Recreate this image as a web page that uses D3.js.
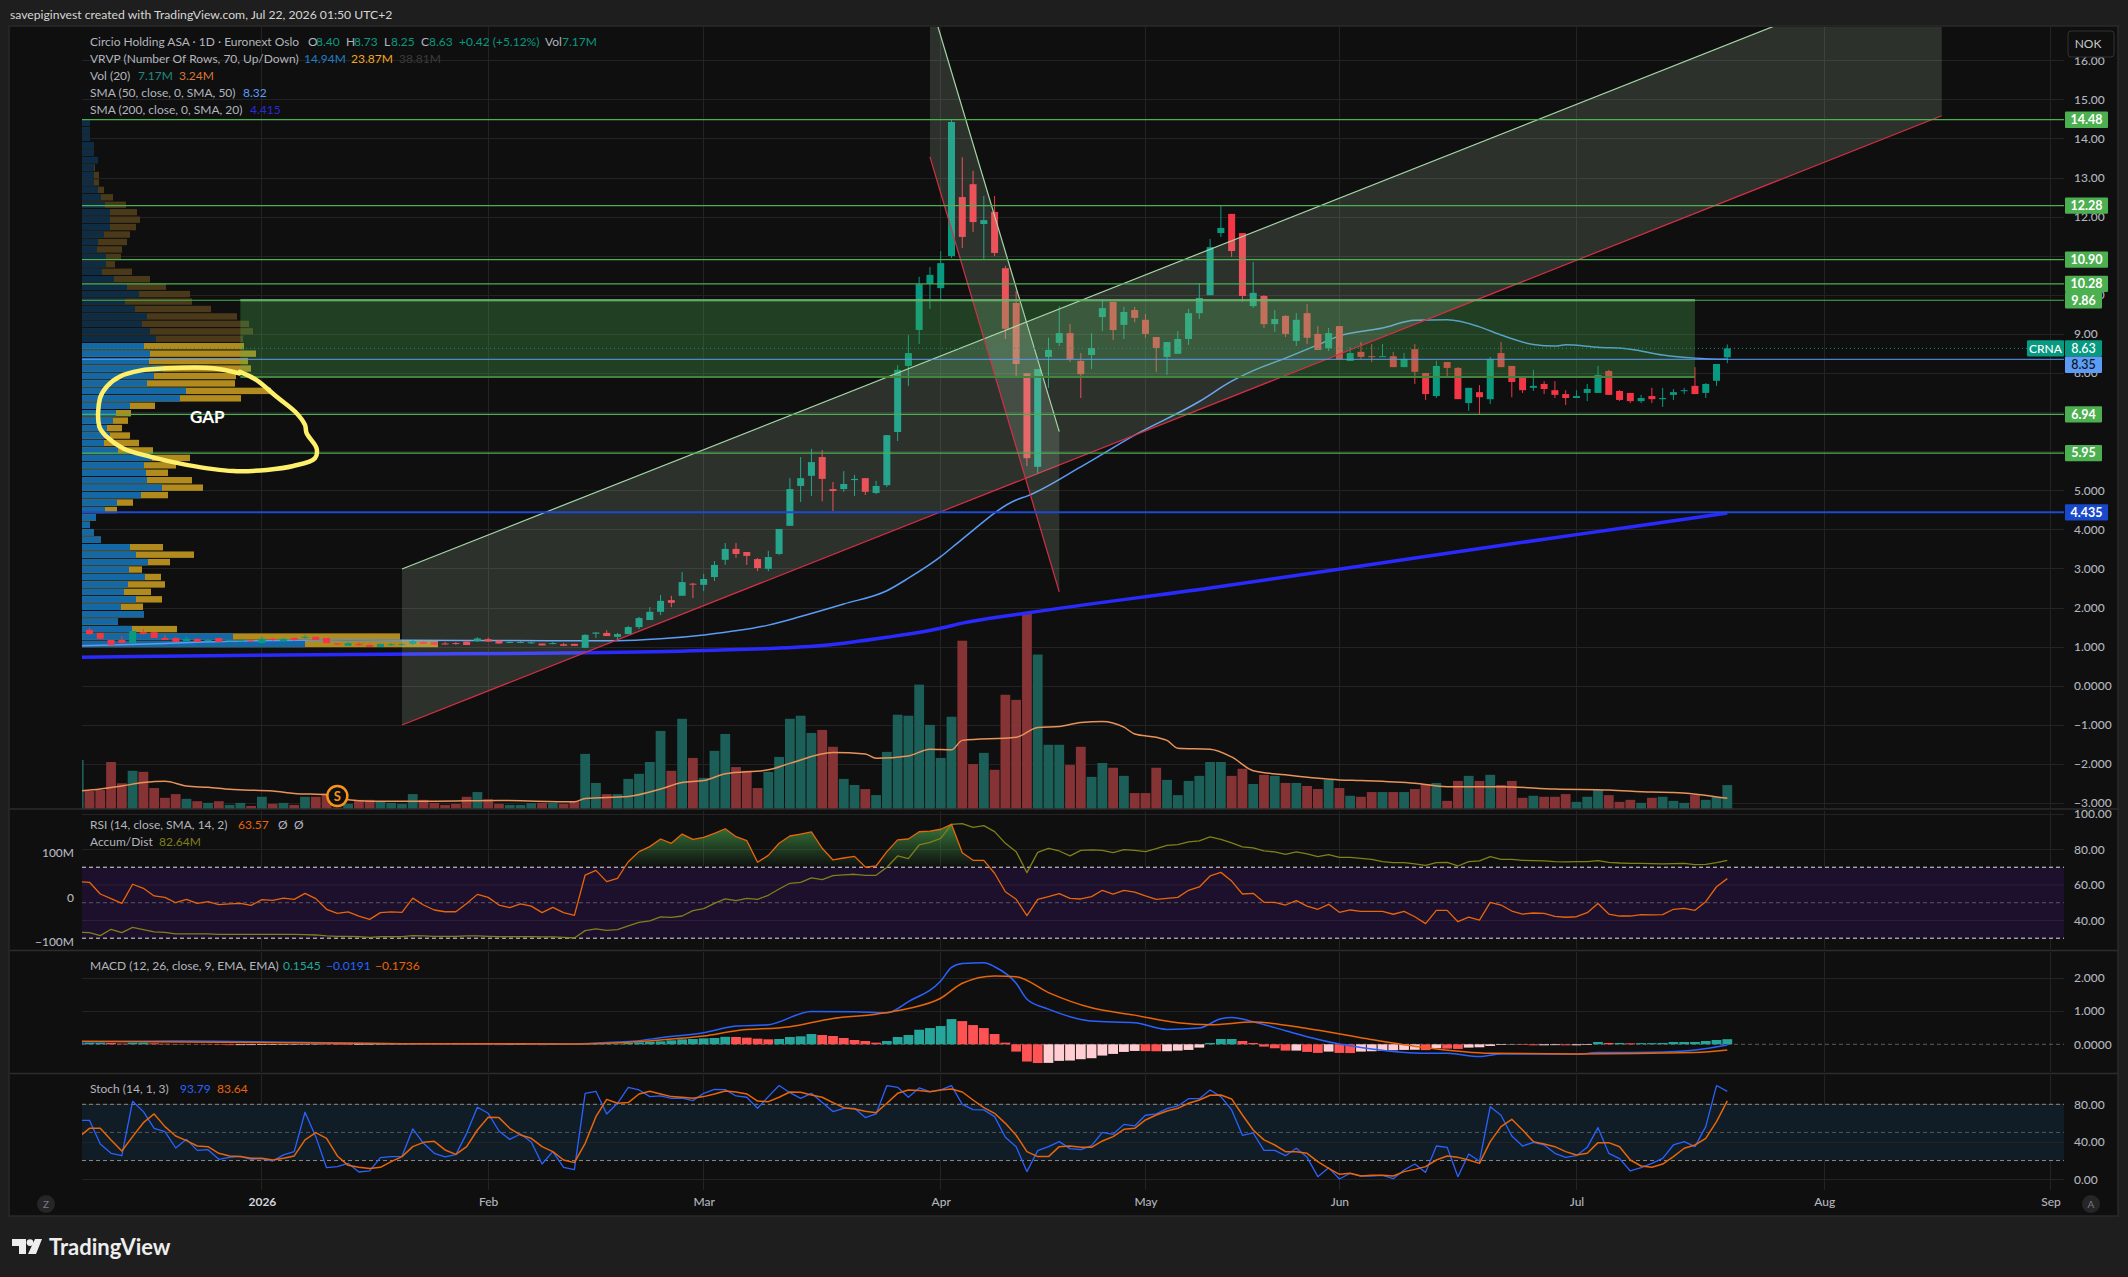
<!DOCTYPE html>
<html>
<head>
<meta charset="utf-8">
<style>
  html, body { margin: 0; padding: 0; background: #1e1e1e; }
  svg { display: block; font-family: Lato, "Open Sans", sans-serif; }
  .axis text { font-size: 12px; fill: #b2b5be; font-family: Lato, sans-serif; font-weight: 500; }
  .axis path, .axis line { stroke: none; }
  .grid line { stroke: #232323; stroke-width: 1; shape-rendering: crispEdges; }
  .grid path { stroke: none; }
  .grid text { display: none; }
</style>
<script src="https://cdn.jsdelivr.net/npm/d3@7"></script>
</head>
<body>
<svg id="chart" width="2128" height="1277"></svg>
<script>
// daily candles, bar 0 is clipped by the left edge, bar 153 is Jul 21
const opens = [1.20,1.43,1.35,1.17,1.17,1.09,1.37,1.37,1.22,1.22,
  1.14,1.20,1.14,1.22,1.14,1.14,1.15,1.09,1.20,1.14,
  1.22,1.23,1.25,1.22,1.08,1.02,1.07,1.04,0.99,1.05,
  1.06,1.07,1.12,1.12,1.08,1.09,1.13,1.14,1.19,1.15,
  1.11,1.11,1.10,1.08,1.07,1.06,1.07,0.97,1.33,1.35,
  1.25,1.32,1.50,1.68,1.89,2.19,2.30,2.61,2.58,2.78,
  3.22,3.50,3.42,3.24,2.99,3.37,4.09,5.11,5.37,5.85,
  5.03,5.03,5.26,5.31,4.93,5.13,6.49,8.18,9.10,10.28,
  10.17,10.99,12.50,12.83,11.81,12.12,10.68,9.79,7.99,5.60,
  8.41,8.77,9.02,8.31,8.46,9.43,9.82,9.23,9.61,9.36,
  8.92,8.41,8.49,8.87,9.53,9.99,11.58,12.07,11.58,9.71,
  9.97,9.25,9.46,8.82,9.53,9.00,8.63,9.20,8.31,8.54,
  8.43,8.41,8.43,8.15,8.61,8.00,7.41,8.28,8.13,7.23,
  7.51,7.33,8.51,8.18,7.91,7.62,7.72,7.56,7.46,7.36,
  7.49,7.49,8.05,7.54,7.49,7.28,7.41,7.33,7.44,7.54,
  7.67,7.49,7.80,8.40];
const highs = [1.37,1.48,1.35,1.17,1.27,1.40,1.45,1.37,1.30,1.24,
  1.25,1.20,1.20,1.22,1.19,1.20,1.17,1.25,1.22,1.22,
  1.24,1.30,1.25,1.22,1.08,1.12,1.12,1.07,1.07,1.09,
  1.09,1.17,1.14,1.12,1.12,1.12,1.15,1.24,1.23,1.17,
  1.15,1.14,1.14,1.08,1.12,1.09,1.07,1.32,1.37,1.42,
  1.35,1.53,1.76,2.01,2.32,2.30,2.91,2.63,2.86,3.19,
  3.65,3.65,3.42,3.27,3.45,4.01,5.31,5.85,6.06,6.03,
  5.21,5.49,5.39,5.31,5.24,6.41,8.20,8.97,10.46,10.71,
  11.12,14.47,13.52,13.17,12.53,12.53,10.74,10.10,7.99,8.10,
  8.90,9.71,9.25,8.51,9.02,9.89,9.82,9.69,9.69,9.51,
  8.92,8.79,9.07,9.64,10.30,11.43,12.27,12.07,11.58,10.84,
  9.99,9.61,9.48,9.53,9.76,9.20,9.15,9.20,8.66,8.79,
  8.74,8.74,8.54,8.51,8.74,8.00,8.31,8.28,8.15,7.62,
  7.69,8.41,8.79,8.18,7.91,8.08,7.79,7.79,7.56,7.56,
  7.72,8.18,8.08,7.56,7.49,7.44,7.62,7.62,7.59,7.62,
  8.15,7.74,8.23,8.73];
const lows = [1.20,1.30,1.20,1.04,1.09,1.09,1.30,1.22,1.17,1.12,
  1.14,1.12,1.14,1.12,1.14,1.14,1.12,1.07,1.15,1.12,
  1.14,1.20,1.17,1.09,1.04,1.02,1.02,0.99,0.99,1.02,
  1.02,1.04,1.07,1.04,1.05,1.05,1.04,1.12,1.12,1.07,
  1.09,1.09,1.07,1.03,1.06,1.02,1.02,0.97,1.22,1.27,
  1.17,1.32,1.45,1.68,1.81,2.01,2.30,2.24,2.42,2.68,
  3.09,3.27,3.09,2.93,2.93,3.34,4.09,4.70,4.85,4.72,
  4.47,4.96,4.85,4.88,4.90,5.08,6.26,7.67,8.74,9.64,
  9.87,10.94,11.20,11.61,10.92,10.99,8.87,7.90,5.62,5.43,
  7.62,8.69,8.28,7.36,8.10,9.07,8.84,8.87,9.30,8.90,
  8.03,7.95,8.49,8.72,9.38,9.99,11.48,10.97,9.82,9.66,
  9.15,9.05,8.92,8.69,8.74,8.59,8.56,8.35,8.31,8.36,
  8.28,8.41,8.15,8.15,7.72,7.31,7.36,7.91,7.33,7.03,
  6.95,7.21,8.15,7.38,7.49,7.54,7.46,7.36,7.18,7.36,
  7.28,7.49,7.44,7.28,7.23,7.23,7.23,7.13,7.31,7.46,
  7.46,7.36,7.67,8.25];
const closes = [1.37,1.32,1.20,1.04,1.09,1.40,1.32,1.22,1.17,1.12,
  1.20,1.12,1.17,1.12,1.17,1.17,1.14,1.20,1.17,1.20,
  1.17,1.25,1.17,1.09,1.06,1.09,1.04,0.99,1.07,1.06,
  1.07,1.14,1.07,1.04,1.06,1.07,1.04,1.21,1.13,1.08,
  1.12,1.12,1.11,1.03,1.09,1.02,1.02,1.30,1.36,1.27,
  1.32,1.50,1.73,1.89,2.17,2.12,2.65,2.59,2.73,3.09,
  3.50,3.37,3.32,3.01,3.29,4.01,5.03,5.31,5.72,5.29,
  4.98,5.16,5.29,4.96,5.11,6.41,8.08,8.51,10.27,10.51,
  10.81,14.42,11.48,11.86,11.91,11.07,9.13,8.23,5.82,8.10,
  8.59,9.02,8.35,7.97,8.64,9.66,9.10,9.56,9.41,9.00,
  8.64,8.79,8.87,9.53,9.92,11.22,11.71,11.12,9.97,10.05,
  9.25,9.38,9.00,9.36,8.90,8.59,9.02,8.35,8.51,8.41,
  8.41,8.43,8.15,8.36,8.03,7.46,8.18,8.13,7.33,7.62,
  7.38,8.36,8.15,7.77,7.56,7.67,7.59,7.44,7.36,7.41,
  7.59,7.95,7.44,7.31,7.28,7.36,7.33,7.36,7.51,7.56,
  7.46,7.72,8.23,8.63];

// volume in millions
const volumes = [14.6,5.4,5.7,14.0,7.7,11.4,11.1,6.3,3.4,4.5,
  3.1,2.4,1.9,2.4,1.3,1.9,1.0,3.7,1.6,1.9,
  1.3,3.7,3.7,4.7,0.5,1.6,2.8,2.8,2.4,1.9,
  1.6,4.5,2.8,1.9,1.3,1.6,3.7,5.1,3.0,1.6,
  1.3,1.3,1.8,1.9,1.9,1.6,2.4,16.4,7.8,4.5,
  4.5,9.0,10.5,14.0,23.2,11.4,26.8,15.2,9.3,17.3,
  22.3,12.5,11.4,6.3,11.1,15.5,26.8,27.7,22.6,23.5,
  18.5,9.0,7.2,6.0,4.2,17.0,28.0,27.7,36.9,25.0,
  15.2,27.4,49.9,13.4,16.7,11.7,33.9,32.4,58.1,45.8,
  19.1,19.1,13.1,18.5,9.6,13.7,12.3,9.9,4.8,4.8,
  12.3,8.7,4.2,8.4,9.9,14.0,14.0,9.9,12.0,7.5,
  10.2,9.9,7.8,7.8,6.9,6.0,8.7,6.3,4.0,3.7,
  5.1,5.1,5.1,5.1,6.0,7.5,7.8,2.5,8.4,9.9,
  8.4,10.2,7.2,8.4,3.4,4.0,3.7,3.7,4.5,2.2,
  3.7,5.7,4.2,2.2,2.8,1.9,3.4,3.7,2.5,1.9,
  4.2,2.8,3.7,7.17];
const volMaBars = [0,2,4,6,8,10,12,14,18,20,23,25,27,33,39,46,47,51,54,56,58,60,64,66,70,73,74,77,79,81,82,87,89,91,93,95,97,98,100,101,102,105,107,109,112,117,119,124,127,132,137,142,146,148,153];
const volMaValues = [5.4,6.0,6.9,7.9,8.3,6.9,6.5,5.9,5.4,4.7,4.3,2.8,2.4,2.4,2.6,2.2,3.2,3.8,6.0,7.9,8.5,10.5,11.7,13.6,16.8,16.4,15.1,15.8,17.8,17.6,20.4,21.3,24.2,24.5,25.7,26.0,24.3,22.3,21.3,20.4,18.1,17.8,15.5,11.4,10.2,8.7,8.5,7.7,6.7,6.7,6.0,5.7,5.1,5.0,3.24];

const sma50Bars = [0,8,14,25,45,50,54,58,64,67,71,75,77,80,82,87,88,93,98,104,107,109,112,115,117,121,124,127,130,132,135,137,138,141,144,147,150,153];
const sma50Values = [1.02,1.08,1.14,1.17,1.15,1.15,1.20,1.30,1.55,1.77,2.09,2.43,2.75,3.30,3.75,4.75,4.85,5.60,6.41,7.27,7.79,8.06,8.38,8.72,8.95,9.15,9.35,9.36,9.18,8.97,8.73,8.69,8.72,8.66,8.61,8.46,8.38,8.35];
const sma200Bars = [0,25,47,58,69,75,80,82,88,105,119,131,144,153];
const sma200Values = [0.73,0.80,0.84,0.90,1.03,1.24,1.47,1.60,1.86,2.50,3.06,3.55,4.06,4.415];

// volume profile rows from the top, in reading units of the picture
const profileUp = [8,8,8,12,12,16,12,12,12,16,19,23,28,28,28,22,16,15,24,24,20,32,45,57,43,53,65,60,68,74,62,68,67,81,72,65,104,98,48,34,31,25,28,22,36,70,62,64,65,80,59,35,23,14,8,12,19,48,54,66,47,63,46,42,54,39,62,36,50,151,223];
const profileTotal = [8,8,8,12,12,16,13,17,17,22,31,44,55,58,54,48,45,40,39,33,50,68,84,108,110,129,155,167,171,161,162,174,166,169,154,153,189,159,73,49,46,40,48,57,71,108,94,86,110,121,86,51,35,14,8,12,19,81,112,88,60,79,83,69,80,61,62,36,95,318,356];

const levelPrices = [14.48,12.28,10.90,10.28,9.86,6.94,5.95];
const levelLabels = ["14.48","12.28","10.90","10.28","9.86","6.94","5.95"];
const supportPrice = 4.435;
const lastPrice = 8.63;
const smaPrice = 8.35;

const zoneBars = [15,150];
const zonePrices = [9.86,7.90];
const riseBars = [30,172.9];
const riseUpper = [2.985,18.57];
const riseLower = [-1.005,14.58];
const fallBars = [79,91];
const fallUpper = [17.54,6.50];
const fallLower = [13.53,2.40];

// hand drawn circle round the gap
const gapBars = [14.9,12.5,8.2,5.68,3.83,2.59,1.97,1.91,2.59,4.14,6.61,10.01,14.35,17.44,19.91,21.92,22.08,21.15,21.0,20.22,18.37,16.51,14.96];
const gapPrices = [7.99,8.12,8.12,8.06,7.91,7.65,7.35,6.63,6.37,6.07,5.86,5.65,5.49,5.52,5.62,5.82,6.07,6.46,6.67,6.97,7.39,7.82,8.03];

const rsiValues = [61.9,61.5,54.9,52.3,49.6,60.4,58.1,53.8,53.0,50.0,
  51.9,49.6,50.6,48.9,49.3,49.6,48.5,51.7,51.3,52.6,
  51.9,55.3,52.3,46.3,44.0,44.8,42.5,40.6,44.4,44.8,
  44.6,52.6,48.7,45.9,44.9,44.9,49.6,54.7,53.0,48.7,
  47.2,49.3,48.1,44.4,47.4,44.4,42.9,65.6,68.2,61.9,
  63.7,73.1,78.8,81.6,85.9,83.5,88.7,85.7,86.8,89.1,
  91.7,87.2,85.0,72.8,76.7,83.5,87.6,88.7,89.9,80.7,
  74.1,75.2,76.1,70.1,70.7,78.8,85.4,85.9,90.0,90.4,
  91.4,94.2,78.2,73.9,73.9,66.6,56.2,51.9,42.7,51.9,
  53.4,55.1,52.5,52.1,53.4,57.0,54.9,57.0,56.0,53.8,
  51.9,52.5,53.0,57.0,58.9,65.1,67.1,62.2,54.9,55.3,
  50.2,50.2,48.7,51.2,48.1,46.3,49.1,44.6,45.9,45.1,
  45.1,45.1,43.5,45.1,42.1,38.2,45.7,45.7,39.3,41.9,
  40.2,50.2,48.7,45.3,43.6,44.2,44.0,42.3,41.8,42.1,
  44.4,49.6,43.6,42.5,42.5,43.3,43.1,43.3,46.3,46.8,
  45.7,50.6,59.0,63.57];
const adValues = [-78.1,-78.9,-85.6,-71.4,-78.9,-67.0,-72.2,-77.4,-78.1,-81.8,
  -81.8,-81.8,-81.8,-82.6,-82.6,-82.6,-82.6,-82.6,-82.6,-82.6,
  -82.6,-83.3,-84.1,-86.3,-87.0,-87.0,-87.8,-89.3,-87.8,-87.8,
  -87.8,-85.6,-86.3,-87.0,-87.0,-87.0,-86.3,-86.3,-87.0,-87.8,
  -87.8,-87.8,-87.8,-88.5,-88.5,-89.3,-90.8,-74.4,-70.7,-73.7,
  -72.2,-64.0,-55.8,-52.8,-43.9,-44.6,-41.7,-29.7,-25.3,-13.4,
  -3.7,-7.4,-2.2,-4.5,4.5,18.6,31.3,33.5,43.2,39.4,
  48.4,49.9,51.4,49.1,49.1,67.0,92.3,86.3,116.8,122.8,
  131.7,163.0,164.4,156.3,160.0,146.6,120.5,101.9,55.1,100.4,
  109.4,103.4,92.3,104.9,105.7,104.9,99.7,106.4,104.9,101.9,
  108.6,116.1,117.6,123.5,125.8,134.7,129.5,121.3,112.4,110.1,
  103.4,101.2,96.0,101.2,96.7,90.8,95.2,89.3,89.3,87.1,
  84.8,79.6,77.4,77.4,74.4,71.4,77.4,78.1,69.9,79.6,
  81.1,90.8,84.8,84.8,82.6,81.8,81.1,79.6,78.9,79.6,
  79.6,81.8,78.1,76.6,75.9,75.9,75.1,74.4,75.1,75.9,
  72.9,73.7,77.4,82.64];

const macdBars = [0,10,20,30,46,50,52,54,58,61,64,68,72,75,77,80,81,82,84,85,87,88,90,93,94,98,101,104,106,107,109,112,114,117,120,125,127,130,132,139,141,146,150,153];
const macdValues = [0.08,0.10,0.06,0.02,0.01,0.07,0.11,0.20,0.35,0.55,0.59,0.99,0.98,0.95,1.29,1.91,2.32,2.44,2.46,2.34,1.84,1.36,1.06,0.75,0.70,0.65,0.45,0.49,0.77,0.81,0.68,0.41,0.23,0.01,-0.14,-0.27,-0.27,-0.37,-0.29,-0.30,-0.25,-0.24,-0.17,-0.0191];
const signalBars = [0,30,46,54,58,61,66,70,74,77,80,82,85,87,90,94,98,102,105,109,114,119,125,131,139,150,153];
const signalValues = [0.09,0.02,0.01,0.13,0.25,0.41,0.53,0.78,0.91,1.08,1.39,1.84,2.06,2.04,1.56,1.10,0.88,0.65,0.59,0.67,0.48,0.20,-0.10,-0.27,-0.29,-0.25,-0.1736];
const histValues = [0.05,0.05,0.05,0.04,0.02,0.05,0.05,0.03,0.015,0.01,
  0.005,-0.005,-0.01,-0.015,-0.025,-0.024,-0.023,-0.021,-0.02,-0.018,
  -0.016,-0.014,-0.012,-0.015,-0.02,-0.022,-0.02,-0.018,-0.015,-0.012,
  -0.01,-0.008,-0.01,-0.012,-0.014,-0.016,-0.018,-0.02,-0.022,-0.024,
  -0.022,-0.02,-0.022,-0.024,-0.02,-0.015,-0.018,0.005,0.01,0.015,
  0.02,0.04,0.06,0.08,0.09,0.12,0.15,0.16,0.18,0.19,
  0.225,0.22,0.20,0.17,0.15,0.16,0.22,0.24,0.31,0.28,
  0.25,0.19,0.13,0.10,0.05,0.10,0.22,0.28,0.44,0.49,
  0.55,0.76,0.70,0.58,0.49,0.31,0.05,-0.22,-0.52,-0.565,
  -0.56,-0.50,-0.49,-0.45,-0.42,-0.34,-0.29,-0.23,-0.20,-0.205,
  -0.21,-0.209,-0.19,-0.17,-0.10,0.04,0.16,0.16,0.10,0.04,
  -0.07,-0.12,-0.19,-0.19,-0.23,-0.26,-0.22,-0.26,-0.265,-0.22,
  -0.21,-0.20,-0.18,-0.17,-0.165,-0.175,-0.12,-0.13,-0.14,-0.10,
  -0.09,-0.05,-0.02,-0.01,-0.02,-0.03,-0.03,-0.025,-0.03,-0.03,
  -0.02,0.07,0.04,0.04,0.03,0.035,0.035,0.04,0.07,0.07,
  0.07,0.10,0.13,0.1545];

const stochK = [62.9,62.9,37.7,27.7,25.2,83.2,72.2,54.4,50.8,33.4,
  42.6,30.9,31.6,21.3,23.4,24.5,21.3,22.0,19.5,26.0,
  29.5,71.5,45.5,12.4,13.5,17.0,7.8,8.9,23.1,24.2,
  24.5,53.7,38.4,27.7,23.8,26.3,49.0,76.8,70.4,51.5,
  42.6,48.3,39.8,16.3,29.5,12.8,10.3,91.7,93.9,69.7,
  81.1,98.1,95.3,88.2,88.9,86.4,86.7,83.9,91.7,96.0,
  95.6,88.9,87.5,75.7,88.2,100.0,92.4,86.4,91.7,81.8,
  72.2,75.7,75.7,65.8,69.7,100.0,98.1,87.5,97.4,93.5,
  95.3,99.9,80.0,74.3,74.0,66.8,44.8,34.8,8.2,30.6,
  34.8,40.2,32.7,31.6,35.9,50.1,48.0,58.6,56.9,68.3,
  69.7,75.4,78.2,86.0,86.0,95.3,88.2,74.0,46.9,49.4,
  30.9,30.9,25.2,33.1,23.4,2.8,12.4,0.3,6.4,3.5,
  3.5,4.2,0.7,9.9,16.3,7.4,35.5,34.1,2.8,27.0,
  19.2,77.5,68.3,46.2,35.5,39.4,36.6,27.7,23.4,25.2,
  34.1,55.1,27.7,22.0,8.9,12.4,17.0,22.4,36.6,40.2,
  34.8,56.2,100.0,93.79];
const stochD = [44.8,54.4,54.4,42.0,30.2,45.5,60.4,69.7,56.2,46.2,
  41.2,35.5,34.8,27.7,24.9,24.2,22.4,22.4,20.6,22.4,
  24.9,42.0,49.8,43.7,24.9,14.9,12.8,11.4,12.8,18.8,
  24.2,34.8,39.4,40.5,31.3,26.6,34.8,52.6,66.1,65.8,
  54.4,47.3,43.7,34.8,29.5,20.6,17.8,38.4,66.8,85.3,
  81.1,81.8,91.0,93.9,91.0,88.2,87.5,86.4,88.2,91.0,
  94.2,93.1,91.0,83.5,82.8,87.5,93.1,92.8,90.0,87.5,
  81.8,76.4,75.0,72.5,71.1,81.1,91.7,95.3,94.6,93.5,
  95.3,96.3,93.1,84.6,76.4,70.4,59.7,47.0,29.5,24.2,
  24.2,34.8,35.5,34.1,34.1,40.9,45.5,53.3,54.4,63.3,
  68.6,72.9,75.7,81.1,84.6,89.6,89.9,85.7,68.6,52.6,
  42.0,36.6,29.5,29.5,27.7,18.8,11.7,5.3,6.4,3.5,
  4.2,4.2,3.5,8.2,10.6,13.5,20.6,24.9,23.4,20.6,
  17.0,40.2,56.2,64.0,52.6,40.2,37.7,34.8,29.5,26.0,
  27.7,39.1,39.1,34.8,20.6,14.2,12.8,16.3,24.2,33.1,
  36.6,43.7,61.5,83.64];

const priceTicks = [16,15,14,13,12,11,10,9,8,7,6,5,4,3,2,1,0,-1,-2,-3];
const priceTickLabels = ["16.00","15.00","14.00","13.00","12.00","11.00","10.00","9.00","8.00","7.00","6.00","5.000","4.000","3.000","2.000","1.000","0.0000","\u22121.000","\u22122.000","\u22123.000"];
const rsiTicks = [100,80,60,40];
const rsiTickLabels = ["100.00","80.00","60.00","40.00"];
const adTicks = [100,0,-100];
const adTickLabels = ["100M","0","\u2212100M"];
const macdTicks = [2,1,0];
const macdTickLabels = ["2.000","1.000","0.0000"];
const stochTicks = [80,40,0];
const stochTickLabels = ["80.00","40.00","0.00"];
const timeTickBars = [17,38,58,80,99,117,139,162,183];
const timeTickLabels = ["2026","Feb","Mar","Apr","May","Jun","Jul","Aug","Sep"];

const UP = "#089981", DOWN = "#f23645";
const plotL = 82, plotR = 2064;
const bars = d3.range(closes.length);

const svg = d3.select("#chart");
const defs = svg.append("defs");

const xBar = d3.scaleLinear().domain([0, 153]).range([78.73, 1727.3]);
const yPrice = d3.scaleLinear().domain([-3, 15]).range([802.97, 99.35]);
const yVol = d3.scaleLinear().domain([0, 58.1]).range([809.3, 613]);
const yRsi = d3.scaleLinear().domain([30, 100]).range([938.2, 814]);
const yAd = d3.scaleLinear().domain([-100, 100]).range([942.1, 852.5]);
const yMacd = d3.scaleLinear().domain([0, 2]).range([1044.3, 978]);
const yStoch = d3.scaleLinear().domain([0, 80]).range([1179.3, 1104.3]);
const xProfile = d3.scaleLinear().domain([0, 356]).range([plotL, plotL + 356]);
const yProfile = d3.scaleBand().domain(d3.range(profileUp.length)).range([yPrice(14.48), yPrice(0.985)]).paddingInner(0.14);

function clip(id, x, y, w, h) {
  defs.append("clipPath").attr("id", id).append("rect").attr("x", x).attr("y", y).attr("width", w).attr("height", h);
  return `url(#${id})`;
}

function note(g, text, x, y, color = "#b2b5be", size = 12, weight = 400) {
  return g.append("text").attr("x", x).attr("y", y).attr("dy", "0.35em").attr("fill", color)
    .attr("font-size", size).attr("font-weight", weight).text(text);
}

function series(g, xs, ys, x, y, color, width, curve = d3.curveLinear) {
  g.append("path").attr("fill", "none").attr("stroke", color).attr("stroke-width", width).attr("stroke-linejoin", "round")
    .attr("d", d3.line().curve(curve).x((d) => x(d)).y((d, i) => y(ys[i]))(xs));
}

function hline(g, y, color, width, dash) {
  g.append("line").attr("x1", plotL).attr("x2", plotR).attr("y1", y).attr("y2", y)
    .attr("stroke", color).attr("stroke-width", width).attr("stroke-dasharray", dash || null);
}

function priceAxis(y, ticks, labels) {
  svg.append("g").attr("class", "axis").attr("transform", `translate(${plotR},0)`)
    .call(d3.axisRight(y).tickValues(ticks).tickSize(0).tickPadding(10).tickFormat((d, i) => labels[i]));
}

function gridY(g, y, ticks) {
  g.append("g").attr("class", "grid").attr("transform", `translate(${plotL},0)`)
    .call(d3.axisLeft(y).tickValues(ticks).tickSize(-(plotR - plotL)).tickFormat(""));
}

function gridX(g, top, bottom) {
  g.append("g").selectAll("line").data(timeTickBars).join("line").attr("class", "vgrid")
    .attr("x1", (d) => xBar(d)).attr("x2", (d) => xBar(d)).attr("y1", top).attr("y2", bottom)
    .attr("stroke", "#232323").attr("shape-rendering", "crispEdges");
}

function tag(text, price, y, fill, width, color = "#fff", weight = 700) {
  svg.append("rect").attr("x", plotR + 1).attr("y", y - 8.2).attr("width", width).attr("height", 16.4).attr("rx", 1).attr("fill", fill);
  const t = note(svg, text, plotR + 1 + width / 2, y, color, 12.5, weight);
  t.attr("text-anchor", "middle");
}

function channel(g, xs, upper, lower) {
  const area = d3.area().x((d) => xBar(d)).y0((d, i) => yPrice(lower[i])).y1((d, i) => yPrice(upper[i]));
  g.append("path").attr("d", area(xs)).attr("fill", "rgba(200,230,201,0.16)");
  series(g, xs, upper, xBar, yPrice, "#a5d6a7", 1.2);
  series(g, xs, lower, xBar, yPrice, "#d32f45", 1.2);
}

// frame
svg.append("rect").attr("width", 2128).attr("height", 1277).attr("fill", "#1e1e1e");
svg.append("rect").attr("x", 9).attr("y", 26).attr("width", 2109).attr("height", 1190)
  .attr("fill", "#0f0f0f").attr("stroke", "#2a2a2a").attr("stroke-width", 1.5);
note(svg, "savepiginvest created with TradingView.com, Jul 22, 2026 01:50 UTC+2", 10, 15, "#d6d6d6", 12.2);

// main pane
const main = svg.append("g").attr("clip-path", clip("mainClip", plotL, 27, plotR - plotL, 782.5));
gridX(main, 27, 809);
gridY(main, yPrice, priceTicks);

main.append("g").selectAll("rect").data(bars).join("rect")
  .attr("x", (i) => xBar(i) - 4.9).attr("width", 9.8)
  .attr("y", (i) => yVol(volumes[i])).attr("height", (i) => yVol(0) - yVol(volumes[i]))
  .attr("fill", (i) => closes[i] >= opens[i] ? "#1c5f58" : "#853335");
series(main, volMaBars, volMaValues, xBar, yVol, "#e8935a", 1.5, d3.curveMonotoneX);

// value area rows are bright, the others dim
const profileRows = d3.range(profileUp.length);
main.append("g").selectAll("rect").data(profileRows).join("rect")
  .attr("x", plotL).attr("y", (r) => yProfile(r)).attr("height", yProfile.bandwidth())
  .attr("width", (r) => xProfile(profileTotal[r]) - plotL)
  .attr("fill", (r) => r < 30 ? "#4a3a1a" : "#b28b1e");
main.append("g").selectAll("rect").data(profileRows).join("rect")
  .attr("x", plotL).attr("y", (r) => yProfile(r)).attr("height", yProfile.bandwidth())
  .attr("width", (r) => xProfile(profileUp[r]) - plotL)
  .attr("fill", (r) => r < 30 ? "#0f2c45" : "#1568a6");

series(main, sma200Bars, sma200Values, xBar, yPrice, "#2a2aff", 3.5, d3.curveMonotoneX);
series(main, sma50Bars, sma50Values, xBar, yPrice, "#5b9cf6", 1.5, d3.curveMonotoneX);

const candles = main.append("g");
candles.selectAll("line").data(bars).join("line")
  .attr("x1", (i) => xBar(i)).attr("x2", (i) => xBar(i))
  .attr("y1", (i) => yPrice(highs[i])).attr("y2", (i) => yPrice(lows[i]))
  .attr("stroke", (i) => closes[i] >= opens[i] ? UP : DOWN).attr("stroke-width", 1);
candles.selectAll("rect").data(bars).join("rect")
  .attr("x", (i) => xBar(i) - 3.5).attr("width", 7)
  .attr("y", (i) => yPrice(Math.max(opens[i], closes[i])))
  .attr("height", (i) => Math.max(1, Math.abs(yPrice(opens[i]) - yPrice(closes[i]))))
  .attr("fill", (i) => closes[i] >= opens[i] ? UP : DOWN);

// drawings sit over the candles
main.append("rect").attr("x", xBar(zoneBars[0])).attr("width", xBar(zoneBars[1]) - xBar(zoneBars[0]))
  .attr("y", yPrice(zonePrices[0])).attr("height", yPrice(zonePrices[1]) - yPrice(zonePrices[0]))
  .attr("fill", "rgba(76,175,80,0.3)");
channel(main, riseBars, riseUpper, riseLower);
channel(main, fallBars, fallUpper, fallLower);

main.append("line").attr("x1", xBar(zoneBars[0])).attr("x2", xBar(zoneBars[1]))
  .attr("y1", yPrice(zonePrices[0])).attr("y2", yPrice(zonePrices[0])).attr("stroke", "#86c089").attr("stroke-width", 2);
main.append("line").attr("x1", xBar(zoneBars[0])).attr("x2", xBar(zoneBars[1]))
  .attr("y1", yPrice(zonePrices[1])).attr("y2", yPrice(zonePrices[1])).attr("stroke", "#43843f").attr("stroke-width", 2);

levelPrices.forEach((p) => hline(main, yPrice(p), "#4caf50", 1.2));
hline(main, yPrice(supportPrice), "#1c49d6", 2);
hline(main, yPrice(smaPrice), "#5b9cf6", 1);
hline(main, yPrice(lastPrice), UP, 1, "1,3");

main.append("path").attr("fill", "none").attr("stroke", "#fff06c").attr("stroke-width", 4.5).attr("stroke-linecap", "round")
  .attr("d", d3.line().curve(d3.curveCatmullRom).x((d) => xBar(d)).y((d, i) => yPrice(gapPrices[i]))(gapBars));
note(main, "GAP", 190, yPrice(6.94) + 3, "#fff", 17, 700).attr("stroke", "rgba(255,255,255,0.25)").attr("stroke-width", 0.5);

// dividend marker
const sMark = main.append("g").attr("transform", `translate(${xBar(24)},${yVol(3.94)})`);
sMark.append("circle").attr("r", 10).attr("fill", "#0f0f0f").attr("stroke", "#f7931a").attr("stroke-width", 2.5);
note(sMark, "S", 0, 0, "#f7931a", 13, 700).attr("text-anchor", "middle");

// RSI with accumulation line
const rsiPane = svg.append("g").attr("clip-path", clip("rsiClip", plotL, 811, plotR - plotL, 138));
gridX(rsiPane, 811, 950);
gridY(rsiPane, yRsi, rsiTicks);
rsiPane.append("rect").attr("x", plotL).attr("width", plotR - plotL).attr("y", yRsi(70)).attr("height", yRsi(30) - yRsi(70)).attr("fill", "#1c102c");
hline(rsiPane, yRsi(80), "#232323", 1);
hline(rsiPane, yRsi(60), "#2d2138", 1);
hline(rsiPane, yRsi(40), "#2d2138", 1);
hline(rsiPane, yRsi(50), "#5f5566", 1, "4,3");
hline(rsiPane, yRsi(70), "#e0e0e0", 1, "4,3");
hline(rsiPane, yRsi(30), "#e0e0e0", 1, "4,3");
const rsiGrad = defs.append("linearGradient").attr("id", "rsiHigh").attr("gradientUnits", "userSpaceOnUse")
  .attr("x1", 0).attr("x2", 0).attr("y1", yRsi(94)).attr("y2", yRsi(70));
rsiGrad.append("stop").attr("offset", 0).attr("stop-color", "#4caf50").attr("stop-opacity", 0.65);
rsiGrad.append("stop").attr("offset", 1).attr("stop-color", "#4caf50").attr("stop-opacity", 0);
rsiPane.append("path").attr("clip-path", clip("rsiHighClip", plotL, 811, plotR - plotL, yRsi(70) - 811))
  .attr("fill", "url(#rsiHigh)")
  .attr("d", d3.area().x((i) => xBar(i)).y0(yRsi(70)).y1((i) => yRsi(rsiValues[i]))(bars));
series(rsiPane, bars, adValues, xBar, yAd, "#808018", 1.3);
series(rsiPane, bars, rsiValues, xBar, yRsi, "#e8650a", 1.3);

// MACD
const macdPane = svg.append("g").attr("clip-path", clip("macdClip", plotL, 952, plotR - plotL, 120));
gridX(macdPane, 952, 1073);
gridY(macdPane, yMacd, macdTicks.slice(0, 2));
hline(macdPane, yMacd(0), "#5a5a5a", 1, "4,3");
macdPane.append("g").selectAll("rect").data(bars).join("rect")
  .attr("x", (i) => xBar(i) - 4.9).attr("width", 9.8)
  .attr("y", (i) => Math.min(yMacd(0), yMacd(histValues[i])))
  .attr("height", (i) => Math.abs(yMacd(histValues[i]) - yMacd(0)))
  .attr("fill", (i) => {
    const rising = i === 0 || histValues[i] >= histValues[i - 1];
    if (!rising) return "#ff5252";
    return histValues[i] >= 0 ? "#26a69a" : "#ffcdd2";
  });
series(macdPane, macdBars, macdValues, xBar, yMacd, "#2962ff", 1.5, d3.curveMonotoneX);
series(macdPane, signalBars, signalValues, xBar, yMacd, "#e8650a", 1.5, d3.curveMonotoneX);

// Stochastic
const stochPane = svg.append("g").attr("clip-path", clip("stochClip", plotL, 1075, plotR - plotL, 115));
gridX(stochPane, 1075, 1190);
stochPane.append("rect").attr("x", plotL).attr("width", plotR - plotL).attr("y", yStoch(80)).attr("height", yStoch(20) - yStoch(80)).attr("fill", "#111d26");
gridY(stochPane, yStoch, stochTicks);
hline(stochPane, yStoch(80), "#8a8a8a", 1, "4,3");
hline(stochPane, yStoch(50), "#555", 1, "4,3");
hline(stochPane, yStoch(20), "#8a8a8a", 1, "4,3");
series(stochPane, bars, stochK, xBar, yStoch, "#2962ff", 1.3);
series(stochPane, bars, stochD, xBar, yStoch, "#e8650a", 1.5);

// pane separators
[809, 950.5, 1073.5].forEach((y) => {
  svg.append("line").attr("x1", 10).attr("x2", 2118).attr("y1", y).attr("y2", y).attr("stroke", "#2c2c2c").attr("stroke-width", 1.5);
});

// axes
priceAxis(yPrice, priceTicks, priceTickLabels);
priceAxis(yRsi, rsiTicks, rsiTickLabels);
priceAxis(yMacd, macdTicks, macdTickLabels);
priceAxis(yStoch, stochTicks, stochTickLabels);
svg.append("g").attr("class", "axis").attr("transform", `translate(${plotL - 8},0)`)
  .call(d3.axisLeft(yAd).tickValues(adTicks).tickSize(0).tickPadding(0).tickFormat((d, i) => adTickLabels[i]));
const timeAxis = svg.append("g").attr("class", "axis").attr("transform", "translate(0,1193)")
  .call(d3.axisBottom(xBar).tickValues(timeTickBars).tickSize(0).tickPadding(4).tickFormat((d, i) => timeTickLabels[i]));
// the year label is stronger than the months
timeAxis.selectAll("text").filter((d) => d === timeTickBars[0]).style("fill", "#d1d4dc").style("font-weight", 700);

// price tags
levelPrices.forEach((p, i) => tag(levelLabels[i], p, yPrice(p), "#4caf50", levelLabels[i].length > 4 ? 43 : 37));
tag("4.435", supportPrice, yPrice(supportPrice), "#1848cc", 43);
svg.append("rect").attr("x", 2027).attr("y", yPrice(lastPrice) - 8.2).attr("width", 37).attr("height", 16.4).attr("rx", 1).attr("fill", UP);
note(svg, "CRNA", 2045.5, yPrice(lastPrice), "#fff", 12, 500).attr("text-anchor", "middle");
tag("8.63", lastPrice, yPrice(lastPrice), UP, 37, "#fff", 500);
tag("8.35", smaPrice, yPrice(lastPrice) + 16.4, "#5b9cf6", 37, "#111", 500);

svg.append("rect").attr("x", 2068).attr("y", 31).attr("width", 46).attr("height", 26).attr("rx", 3)
  .attr("fill", "#0f0f0f").attr("stroke", "#333");
note(svg, "NOK", 2088, 44, "#c8c8c8", 12).attr("text-anchor", "middle");

// legends
const legend = svg.append("g");
note(legend, "Circio Holding ASA \u00b7 1D \u00b7 Euronext Oslo", 90, 42);
[["O", 308], ["H", 346], ["L", 384], ["C", 421], ["Vol", 545]].forEach(([t, x]) => note(legend, t, x, 42));
[["8.40", 316], ["8.73", 354], ["8.25", 391], ["8.63", 429], ["+0.42 (+5.12%)", 459], ["7.17M", 562]].forEach(([t, x]) => note(legend, t, x, 42, UP));
note(legend, "VRVP (Number Of Rows, 70, Up/Down)", 90, 59);
note(legend, "14.94M", 304, 59, "#1e7fc4");
note(legend, "23.87M", 351, 59, "#f5a623");
note(legend, "38.81M", 399, 59, "#3c3c3c");
note(legend, "Vol (20)", 90, 76);
note(legend, "7.17M", 138, 76, "#1f8a80");
note(legend, "3.24M", 179, 76, "#d9773a");
note(legend, "SMA (50, close, 0, SMA, 50)", 90, 93);
note(legend, "8.32", 243, 93, "#5b9cf6");
note(legend, "SMA (200, close, 0, SMA, 20)", 90, 110);
note(legend, "4.415", 250, 110, "#2a2adb");
note(legend, "RSI (14, close, SMA, 14, 2)", 90, 825);
note(legend, "63.57", 238, 825, "#e8650a");
note(legend, "\u00d8", 278, 825);
note(legend, "\u00d8", 294, 825);
note(legend, "Accum/Dist", 90, 842);
note(legend, "82.64M", 159, 842, "#808018");
note(legend, "MACD (12, 26, close, 9, EMA, EMA)", 90, 966);
note(legend, "0.1545", 283, 966, "#26a69a");
note(legend, "\u22120.0191", 326, 966, "#2962ff");
note(legend, "\u22120.1736", 375, 966, "#e8650a");
note(legend, "Stoch (14, 1, 3)", 90, 1089);
note(legend, "93.79", 180, 1089, "#2962ff");
note(legend, "83.64", 217, 1089, "#e8650a");

// scale mode buttons
[["Z", 46], ["A", 2091]].forEach(([t, x]) => {
  svg.append("circle").attr("cx", x).attr("cy", 1204).attr("r", 9).attr("fill", "#262626");
  note(svg, t, x, 1204, "#787b86", 10).attr("text-anchor", "middle");
});

// logo
const logo = svg.append("g").attr("fill", "#eee");
logo.append("path").attr("d", "M12 1239h14v15h-7v-8h-7z");
logo.append("circle").attr("cx", 30).attr("cy", 1242.6).attr("r", 3.4);
logo.append("path").attr("d", "M35 1239h7l-6 15h-8z");
note(logo, "TradingView", 49, 1247, "#eee", 22, 700);
</script>
</body>
</html>
